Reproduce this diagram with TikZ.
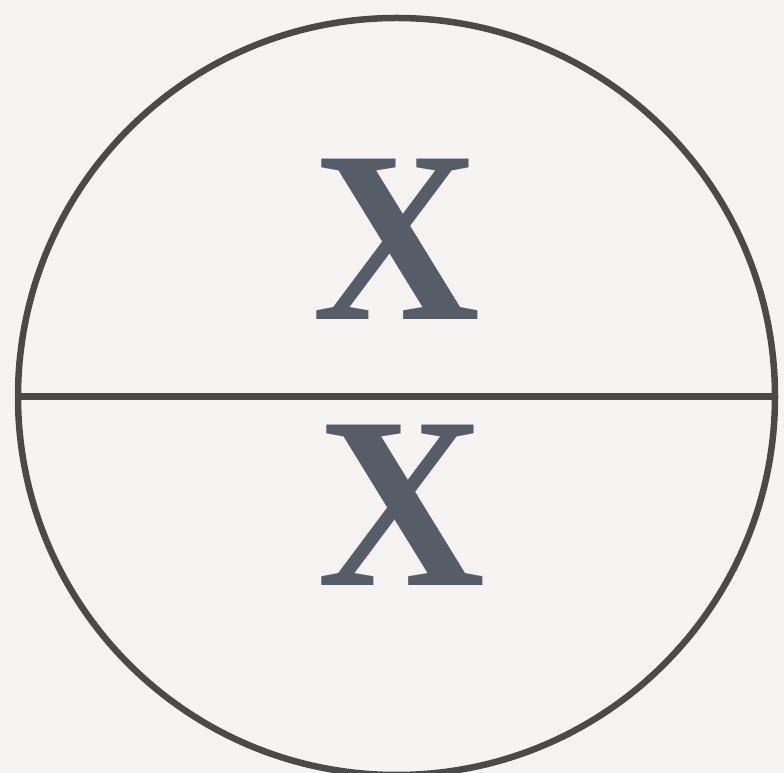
\documentclass[tikz,border=0pt]{standalone}
\usepackage{fontspec}
\setmainfont{Liberation Serif}
\definecolor{bgc}{HTML}{F5F4F2}
\definecolor{ringc}{HTML}{4A4A4A}
\definecolor{letc}{HTML}{565D67}
\begin{document}
\begin{tikzpicture}[x=1pt,y=1pt,
  ring/.style={draw=ringc,line width=6.5pt,circle,minimum size=757pt,inner sep=0pt,outer sep=0pt},
  bigx/.style={text=letc,inner sep=0pt,outer sep=0pt,xscale=0.95,font=\fontsize{245}{245}\selectfont\bfseries}]
\clip (0,0) rectangle (784,773);
\fill[bgc] (0,0) rectangle (784,773);
\useasboundingbox (0,0) rectangle (784,773);
\node[ring] (c) at (396.5,376.5) {};
\draw[draw=ringc,line width=6.5pt] (c.west) -- (c.east);
\node[bigx] (top) at (397,534) {X};
\node[bigx] (bot) at (401.5,268) {X};
\end{tikzpicture}
\end{document}
